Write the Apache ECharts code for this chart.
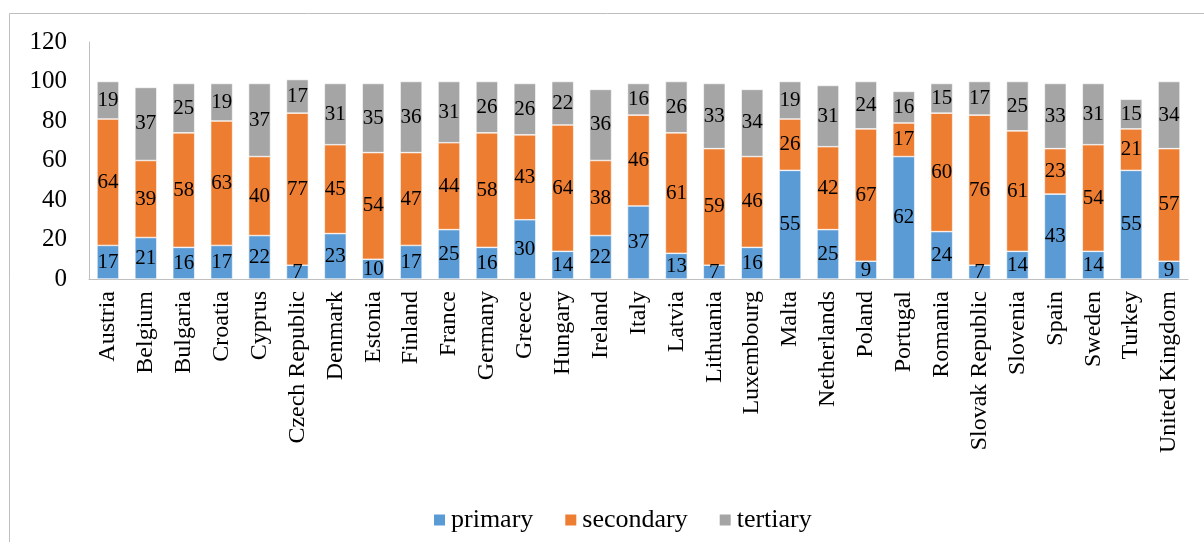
<!DOCTYPE html>
<html><head><meta charset="utf-8">
<script src="https://cdn.jsdelivr.net/npm/echarts@6/dist/echarts.min.js"></script>
<style>html,body{margin:0;padding:0;background:#fff}#c{width:1204px;height:542px}</style>
</head><body><div id="c"></div>
<script>
const categories = ["Austria","Belgium","Bulgaria","Croatia","Cyprus","Czech Republic","Denmark","Estonia","Finland","France","Germany","Greece","Hungary","Ireland","Italy","Latvia","Lithuania","Luxembourg","Malta","Netherlands","Poland","Portugal","Romania","Slovak Republic","Slovenia","Spain","Sweden","Turkey","United Kingdom"];
const primary = [17,21,16,17,22,7,23,10,17,25,16,30,14,22,37,13,7,16,55,25,9,62,24,7,14,43,14,55,9];
const secondary = [64,39,58,63,40,77,45,54,47,44,58,43,64,38,46,61,59,46,26,42,67,17,60,76,61,23,54,21,57];
const tertiary = [19,37,25,19,37,17,31,35,36,31,26,26,22,36,16,26,33,34,19,31,24,16,15,17,25,33,31,15,34];
const yTicks = [0,20,40,60,80,100,120];

const font = "'Liberation Serif','DejaVu Serif',serif";
const chart = echarts.init(document.getElementById('c'));
function s(name, data, color){
  return {name, type:'bar', stack:'a', data, barWidth:'58%',
    itemStyle:{color, borderColor:'#fff', borderWidth:0.6},
    label:{show:true, position:'inside', color:'#000', fontFamily:font, fontSize:21},
    emphasis:{disabled:true}};
}
chart.setOption({
  animation:false,
  textStyle:{fontFamily:font},
  graphic:[{type:'rect', shape:{x:9.5,y:13.5,width:1300,height:600}, style:{fill:null, stroke:'#bfbfbf', lineWidth:1}, silent:true}],
  grid:{left:89, right:16, top:42, bottom:263, containLabel:false},
  legend:{top:502, left:427, itemWidth:13, itemHeight:13, itemGap:30, icon:'rect',
    textStyle:{fontFamily:font, fontSize:26, color:'#000'}},
  xAxis:{type:'category', data:categories,
    axisLine:{lineStyle:{color:'#bfbfbf'}}, axisTick:{show:false},
    axisLabel:{rotate:90, interval:0, fontFamily:font, fontSize:24, color:'#000', margin:12}},
  yAxis:{type:'value', min:0, max:120, interval:20,
    axisLine:{show:true, lineStyle:{color:'#bfbfbf'}}, axisTick:{show:false}, splitLine:{show:false},
    axisLabel:{fontFamily:font, fontSize:25, color:'#000', margin:22}},
  series:[s('primary',primary,'#5B9BD5'), s('secondary',secondary,'#ED7D31'), s('tertiary',tertiary,'#A5A5A5')]
});
</script></body></html>
